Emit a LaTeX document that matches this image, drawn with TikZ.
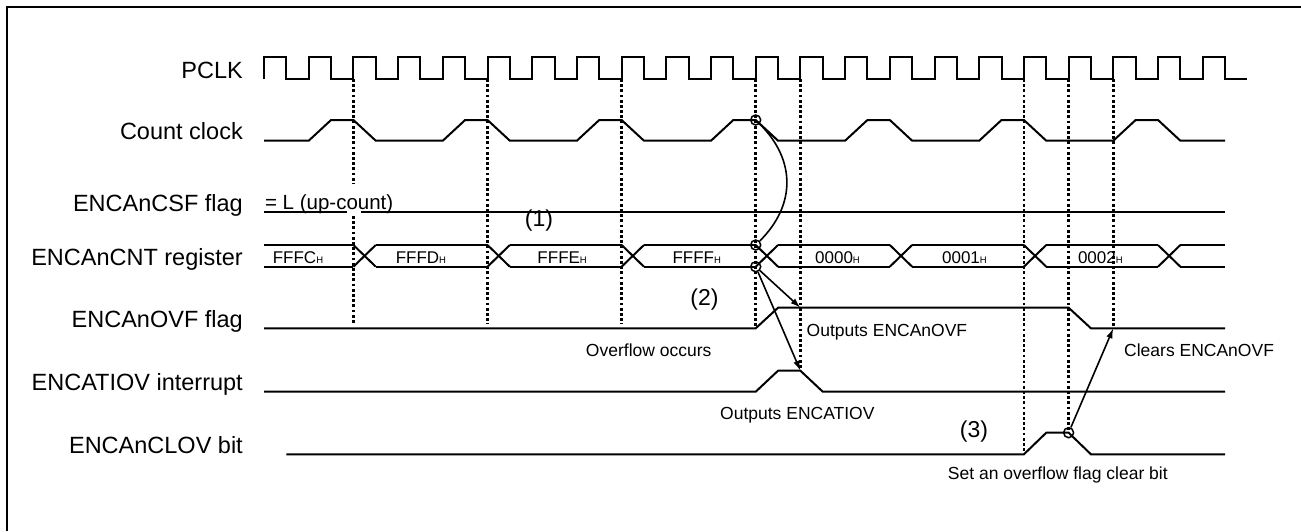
\documentclass[tikz,border=0pt]{standalone}
\usepackage{fontspec}
\setmainfont{Liberation Sans}
\usetikzlibrary{arrows.meta}
\newcommand{\hexval}[1]{{\fontsize{17}{18}\selectfont #1}{\fontsize{9.5}{10}\selectfont H}}
\tikzset{
  wave/.style={line width=2pt},
  sync/.style={line width=2.8pt, dash pattern=on 2.8pt off 2.4pt},
  sig/.style={anchor=base east, inner sep=0pt, font=\fontsize{23.5}{27}\selectfont},
  note/.style={anchor=base west, inner sep=0pt, font=\fontsize{17.5}{20}\selectfont},
  step num/.style={inner sep=0pt, font=\fontsize{23}{26}\selectfont},
  hexlbl/.style={anchor=base, inner sep=0pt},
  ring/.style={circle, draw, line width=1.5pt, minimum size=10pt, inner sep=0pt},
  ptr/.style={line width=1.6pt, -{Latex[length=10pt,width=6.5pt]}}
}

\begin{document}
\begin{tikzpicture}[x=1pt,y=-1pt]
    \useasboundingbox (0,0) rectangle (1301,531);
    \draw[line width=2.4pt] (7,531) -- (7,7) -- (1301,7);
    % signal names
    \node[sig] (npclk) at (243,78) {PCLK};
    \node[sig] (ncnt) at (243,139) {Count clock};
    \node[sig] (ncsf) at (243,211) {ENCAnCSF flag};
    \node[sig] (nreg) at (243,265.5) {ENCAnCNT register};
    \node[sig] (novf) at (243,327) {ENCAnOVF flag};
    \node[sig] (nirq) at (243,390.5) {ENCATIOV interrupt};
    \node[sig] (nclov) at (243,453.5) {ENCAnCLOV bit};
    \begin{scope}[xshift=264pt, x=44.7pt]
        % sync lines
        \draw[sync] (2,79) -- (2,184);
        \draw[sync] (2,216) -- (2,323);
        \foreach \t/\e in {5/324, 8/324, 11/326, 12/369, 17/451, 18/430, 19/326}
            \draw[sync] (\t,79) -- (\t,\e);
        % waves
        \draw[wave] (0,79) \foreach \k in {0,...,21} { -- (\k,57) -- (\k+.5,57) -- (\k+.5,79) -- (\k+1,79) };
        \draw[wave] (0,140.7) \foreach \k in {1,4,...,19} { -- (\k,140.7) -- (\k+.5,120) -- (\k+1,120) -- (\k+1.5,140.7) } -- (21.5,140.7);
        \draw[wave] (0,212.3) -- (1.85,212.3);
        \draw[wave] (2.18,212.3) -- (21.5,212.3);
        \node[anchor=base west, inner sep=0pt, font=\fontsize{20.5}{24}\selectfont] (up) at (0.02,209.5) {= L (up-count)};
        \foreach \a/\b in {0/2, 2.5/5, 5.5/8, 8.5/11, 11.5/14, 14.5/17, 17.5/20, 20.5/21.5} {
            \draw[wave] (\a,245) -- (\b,245);
            \draw[wave] (\a,266.7) -- (\b,266.7);
        }
        \foreach \s in {2,5,...,20} {
            \draw[wave] (\s,245) -- (\s+.5,266.7);
            \draw[wave] (\s,266.7) -- (\s+.5,245);
        }
        \foreach \x/\v [count=\i] in {0.76/FFFC, 3.51/FFFD, 6.67/FFFE, 9.68/FFFF, 12.83/0000, 15.67/0001, 18.71/0002}
            \node[hexlbl] (v\i) at (\x,263.5) {\hexval{\v}};
        \draw[wave] (0,328.3) -- (11,328.3) -- (11.5,307.7) -- (18,307.7) -- (18.5,328.3) -- (21.5,328.3);
        \draw[wave] (0,391.7) -- (11,391.7) -- (11.5,370.7) -- (12,370.7) -- (12.5,391.7) -- (21.5,391.7);
        \draw[wave] (0.5,454.3) -- (17,454.3) -- (17.5,432.7) -- (18,432.7) -- (18.5,454.3) -- (21.5,454.3);
        % events
        \node[ring] (ck) at (11,120) {};
        \node[ring] (cnttop) at (11,245) {};
        \node[ring] (cntbot) at (11,266.7) {};
        \node[ring] (clr) at (18,432.7) {};
        \coordinate (ovfhi) at (12,307.7);
        \coordinate (irqhi) at (12,370.7);
        \coordinate (ovflo) at (19,328.3);
        \draw[line width=1.6pt] (ck) .. controls (11.9,160) and (11.9,205) .. (cnttop);
        \draw[ptr] (cntbot) -- (ovfhi);
        \draw[ptr] (cntbot) -- (irqhi);
        \draw[ptr] (clr) -- (ovflo);
    \end{scope}
    % notes
    \node[step num] (s1) at (539,221) {(1)};
    \node[step num] (s2) at (704.5,300) {(2)};
    \node[step num] (s3) at (974,431.7) {(3)};
    \node[note, anchor=base] (occ) at (648.7,356.5) {Overflow occurs};
    \node[note] (outovf) at (806.5,336.5) {Outputs ENCAnOVF};
    \node[note] (clrovf) at (1124,356.7) {Clears ENCAnOVF};
    \node[note] (outirq) at (720,419) {Outputs ENCATIOV};
    \node[note] (setclr) at (947.7,479.5) {Set an overflow flag clear bit};
\end{tikzpicture}
\end{document}
